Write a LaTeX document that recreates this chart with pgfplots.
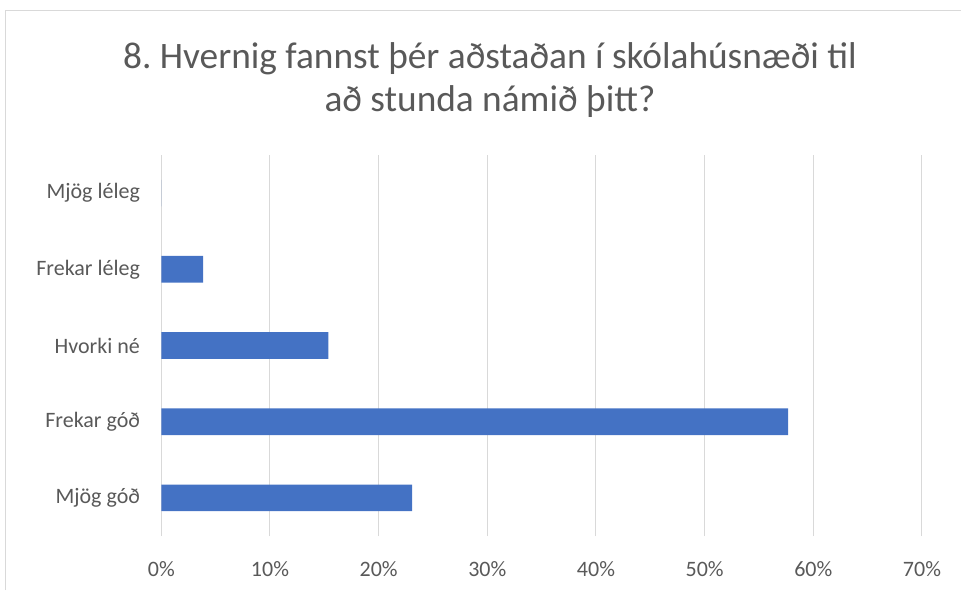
\documentclass[border=0pt]{standalone}
\usepackage{pgfplots}
\pgfplotsset{compat=1.18}
\usepackage{fontspec}
\setmainfont{Carlito}
\frenchspacing
\definecolor{txt}{HTML}{595959}
\definecolor{gridc}{HTML}{D9D9D9}
\definecolor{barc}{HTML}{4472C4}
\begin{document}
\begin{tikzpicture}[x=0.75pt,y=0.75pt]
\path[use as bounding box] (0,0) rectangle (961,590);
\draw[gridc, line width=0.75pt] (5,0) -- (5,579) -- (961,579);
\node[txt, font=\fontsize{28}{32.5}\selectfont, align=center] at (490,510) {8. Hvernig fannst þér aðstaðan í skólahúsnæði til\\að stunda námið þitt?};
\begin{axis}[
  at={(120.975pt,40.5pt)}, anchor=south west,
  scale only axis, width=570.5pt, height=285.75pt,
  xbar, xmin=0, xmax=70, ymin=-0.5, ymax=4.5,
  ytick={0,1,2,3,4},
  yticklabels={Mjög góð, Frekar góð, Hvorki né, Frekar léleg, Mjög léleg},
  xtick={0,10,...,70},
  xticklabel={\pgfmathprintnumber{\tick}\%},
  xmajorgrids, grid style={gridc, line width=0.75pt},
  axis line style={draw=none}, major tick length=0,
  tick label style={txt, font=\fontsize{16.5}{19}\selectfont},
  /pgf/number format/assume math mode=true,
  yticklabel style={xshift=-12.5pt},
  xticklabel style={yshift=-15.3pt},
  bar width=0.35,
]
\addplot[fill=barc, draw=none] coordinates {(23.077,0) (57.692,1) (15.385,2) (3.846,3) (0,4)};
\end{axis}
\end{tikzpicture}
\end{document}
